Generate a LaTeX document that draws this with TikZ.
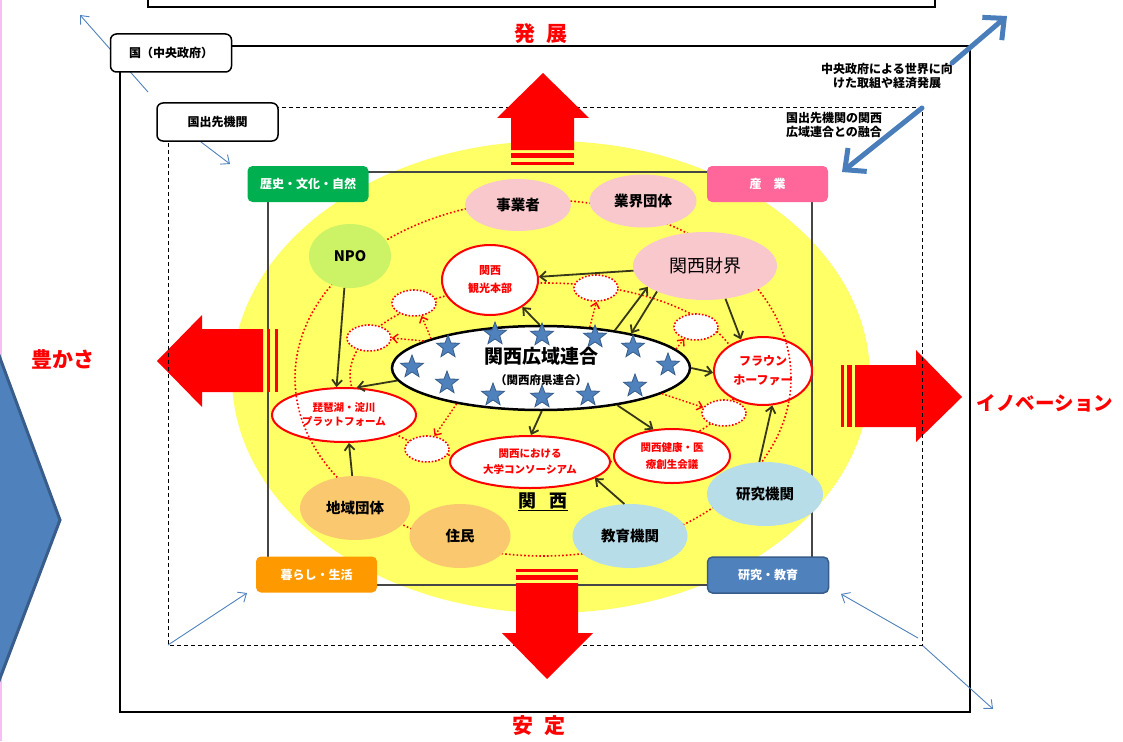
\documentclass[tikz,border=0pt]{standalone}
\usepackage{fontspec}
\setmainfont{Noto Sans CJK JP}
\usetikzlibrary{shapes.geometric,arrows.meta}
\definecolor{ybg}{RGB}{255,255,102}
\definecolor{pinkp}{RGB}{248,200,204}
\definecolor{npog}{RGB}{204,242,102}
\definecolor{orp}{RGB}{250,200,110}
\definecolor{bluep}{RGB}{183,221,232}
\definecolor{catg}{RGB}{0,176,80}
\definecolor{catp}{RGB}{255,102,153}
\definecolor{cato}{RGB}{255,153,0}
\definecolor{catb}{RGB}{79,129,189}
\definecolor{catbd}{RGB}{56,93,138}
\definecolor{lblue}{RGB}{79,129,189}
\definecolor{tblue}{RGB}{74,126,187}
\definecolor{arrowc}{RGB}{55,55,25}
\definecolor{pinkline}{RGB}{245,190,245}
\definecolor{boxgray}{RGB}{70,70,70}
\begin{document}
\begin{tikzpicture}[x=1pt,y=-1pt,
  cat/.style={rounded corners=5pt, minimum width=121pt, minimum height=36pt, inner sep=0pt, text=white, font=\bfseries\fontsize{12}{14}\selectfont},
  lbl/.style={draw=black, line width=1.5pt, fill=white, rounded corners=6pt, minimum width=121pt, minimum height=38pt, inner sep=0pt, font=\bfseries\fontsize{12}{14}\selectfont},
  pastel/.style={ellipse, inner sep=0pt, font=\bfseries\fontsize{14.5}{16}\selectfont},
  rednode/.style={ellipse, draw=red, line width=2pt, fill=white, inner sep=0pt, text=red, align=center},
  smallring/.style={ellipse, draw=red, fill=white, line width=1.6pt, dash pattern=on 1.6pt off 1.8pt, minimum width=44pt, minimum height=26pt, inner sep=0pt},
  ar/.style={draw=arrowc, line width=1.8pt, -{Straight Barb[length=6pt,width=10pt]}},
  rdar/.style={draw=red, line width=1.4pt, dash pattern=on 1.6pt off 2pt, -{Straight Barb[length=5pt,width=9pt]}},
  thinblue/.style={draw=lblue, line width=0.9pt, -{Straight Barb[length=7pt,width=12pt]}},
  thickblue/.style={draw=tblue, line width=5pt, line cap=round, -{Straight Barb[length=16pt,width=30pt]}},
  redlabel/.style={text=red, font=\bfseries\fontsize{21}{24}\selectfont},
  bluestar/.style={star, star points=5, star point ratio=2.4, fill=catb, draw=catbd, line width=0.8pt, minimum size=24pt, inner sep=0pt},
  ring/.style={draw=red, line width=1.6pt, dash pattern=on 1.6pt off 2.2pt}
]
\useasboundingbox (0,0) rectangle (1123,741);
\begin{scope}
\clip (0,0) rectangle (1123,741);
% left pink line and blue pentagon
\draw[pinkline, line width=2pt] (1,0) -- (1,741);
\filldraw[fill=catb, draw=catbd, line width=3pt] (-20,304) -- (60,520) -- (-20,731) -- cycle;
% top box
\draw[line width=1.2pt] (148,-5) -- (148,7) -- (935,7) -- (935,-5);
\end{scope}
% outer box
\draw[line width=1.2pt] (120,46) rectangle (970,712);
% thin blue arrows (under labels)
\coordinate (tb1s) at (148,92); \coordinate (tb1e) at (80,15);
\coordinate (tb2s) at (201,142); \coordinate (tb2e) at (230,164);
\coordinate (tb3s) at (168,645); \coordinate (tb3e) at (247,593);
\coordinate (tb4s) at (918,638); \coordinate (tb4e) at (841,594);
\coordinate (tb5s) at (922,645); \coordinate (tb5e) at (993,709);
\draw[thinblue] (tb1s) -- (tb1e);
\draw[thinblue] (tb2s) -- (tb2e);
\draw[thinblue] (tb3s) -- (tb3e);
\draw[thinblue] (tb4s) -- (tb4e);
\draw[thinblue] (tb5s) -- (tb5e);
% yellow area
\fill[ybg] (551,377) ellipse [x radius=319pt, y radius=236pt];
% inner box
\draw[boxgray, line width=1.4pt] (268,172) rectangle (812,585);
% left and right red arrows
\fill[red] (157,361) -- (202,315) -- (202,329) -- (263,329) -- (263,392) -- (202,392) -- (202,407) -- cycle;
\fill[red] (267,329) rectangle (270,392);
\fill[red] (275,329) rectangle (278,392);
\fill[red] (962,397) -- (916,350) -- (916,365) -- (855,365) -- (855,427) -- (916,427) -- (916,442) -- cycle;
\fill[red] (841,365) rectangle (844,427);
\fill[red] (847,365) rectangle (852,427);
% dashed box
\draw[line width=1pt, dash pattern=on 4pt off 3pt] (168,108) rectangle (922,645);
% up and down red arrows
\fill[red] (543,73) -- (589,118) -- (574,118) -- (574,150) -- (511,150) -- (511,118) -- (497,118) -- cycle;
\fill[red] (511,153) rectangle (574,158);
\fill[red] (511,162) rectangle (574,165);
\fill[red] (516,569) rectangle (578,572);
\fill[red] (516,575) rectangle (578,580);
\fill[red] (516,583) -- (578,583) -- (578,633) -- (593,633) -- (547,679) -- (502,633) -- (516,633) -- cycle;
% labels
\node[lbl] (gov) at (171,53) {国（中央政府）};
\node[lbl] (dept) at (217.5,122) {国出先機関};
\node[cat, fill=catg] (rekishi) at (308,184) {歴史・文化・自然};
\node[cat, fill=catp] (sangyo) at (767.5,184) {産　業};
\node[cat, fill=cato] (kurashi) at (316.5,574.5) {暮らし・生活};
\node[cat, fill=catb, draw=catbd, line width=1.5pt] (kenkyuk) at (768,575) {研究・教育};
% red direction labels
\node[redlabel] (hatten) at (541,34) {発\hspace{12pt}展};
\node[redlabel] (antei) at (539,726) {安\hspace{12pt}定};
\node[redlabel] (yutaka) at (63,359) {豊かさ};
\node[redlabel, font=\bfseries\fontsize{19.5}{22}\selectfont] (innov) at (1045,403) {イノベーション};
% side texts
\node[align=center, font=\bfseries\fontsize{12}{13.5}\selectfont] (t1) at (887,76) {中央政府による世界に向\\けた取組や経済発展};
\node[align=left, font=\bfseries\fontsize{12}{13.5}\selectfont] (t2) at (834,125) {国出先機関の関西\\広域連合との融合};
% thick blue arrows
\coordinate (kb1s) at (952,63); \coordinate (kb1e) at (1007,16);
\coordinate (kb2s) at (922,108); \coordinate (kb2e) at (842,172);
\draw[thickblue] (kb1s) -- (kb1e);
\draw[thickblue] (kb2s) -- (kb2e);
% inner dotted ring
\draw[ring] (545,375) ellipse [x radius=195pt, y radius=92pt];
% small dotted ellipses
\node[smallring] (s1) at (414,303) {};
\node[smallring] (s2) at (369,338) {};
\node[smallring] (s3) at (596,288) {};
\node[smallring] (s4) at (696,327) {};
\node[smallring] (s5) at (724,413) {};
\node[smallring] (s6) at (427,449) {};
% red nodes
\node[rednode, minimum width=96pt, minimum height=70pt, font=\bfseries\fontsize{11}{18}\selectfont] (kanko) at (490,280) {関西\\観光本部};
\node[rednode, minimum width=144pt, minimum height=54pt, font=\bfseries\fontsize{10.5}{14}\selectfont] (biwa) at (344,415) {琵琶湖・淀川\\プラットフォーム};
\node[rednode, minimum width=160pt, minimum height=52pt, font=\bfseries\fontsize{10.5}{16}\selectfont] (daigaku) at (530,462) {関西における\\大学コンソーシアム};
\node[rednode, minimum width=116pt, minimum height=54pt, font=\bfseries\fontsize{10.5}{17}\selectfont] (kenko) at (672,456) {関西健康・医\\療創生会議};
\node[rednode, minimum width=98pt, minimum height=68pt, font=\bfseries\fontsize{12}{19}\selectfont] (fraun) at (763,371) {フラウン\\ホーファー};
% outer dotted ring
\draw[ring] (543,378) ellipse [x radius=248pt, y radius=178pt];
% pastel nodes
\node[pastel, fill=pinkp, minimum width=106pt, minimum height=52pt] (jigyo) at (518,205) {事業者};
\node[pastel, fill=pinkp, minimum width=107pt, minimum height=53pt] (gyokai) at (643,201) {業界団体};
\node[pastel, fill=pinkp, minimum width=144pt, minimum height=68pt, font=\fontsize{18}{20}\selectfont] (zaikai) at (705,266) {関西財界};
\node[pastel, fill=npog, minimum width=82pt, minimum height=64pt] (npo) at (350,256) {NPO};
\node[pastel, fill=orp, minimum width=110pt, minimum height=64pt] (chiiki) at (355,508) {地域団体};
\node[pastel, fill=orp, minimum width=101pt, minimum height=64pt] (jumin) at (460,536) {住民};
\node[pastel, fill=bluep, minimum width=115pt, minimum height=64pt] (kyoiku) at (630,536) {教育機関};
\node[pastel, fill=bluep, minimum width=116pt, minimum height=64pt] (kenkyu) at (765,494) {研究機関};
% central node
\node[ellipse, draw=black, line width=2.5pt, fill=white, minimum width=298pt, minimum height=84pt, inner sep=0pt] (kouiki) at (541,368) {};
\foreach \i/\p in {1/{(412,367)},2/{(448,347)},3/{(495,334)},4/{(542,335)},5/{(595,337)},6/{(633,347)},7/{(668,365)},8/{(447,383)},9/{(493,395)},10/{(542,397)},11/{(588,395)},12/{(635,386)}}
  \node[bluestar] (st\i) at \p {};
\node[inner sep=0pt, font=\bfseries\fontsize{19}{22}\selectfont] (kouikit) at (541,356) {関西広域連合};
\node[inner sep=0pt, font=\bfseries\fontsize{11.5}{14}\selectfont] (kouikis) at (541,380) {（関西府県連合）};
\node[font=\bfseries\fontsize{18}{20}\selectfont, inner sep=0pt] (kansai) at (543,502) {\underline{関\hspace{14pt}西}};
% black arrows
\draw[ar] (zaikai) -- (kanko);
\draw[ar] (kouiki.27) -- (zaikai.200);
\draw[ar] (zaikai.208) -- (kouiki.21);
\draw[ar] (kouiki.92) -- (kanko.-40);
\draw[ar] (zaikai.-58) -- (fraun.125);
\draw[ar] (kouiki.east) -- (fraun.182);
\draw[ar] (kouiki.185) -- (biwa.65);
\draw[ar] (npo.-100) -- (biwa.105);
\draw[ar] (kouiki.-89) -- (daigaku.88);
\draw[ar] (kouiki.-26) -- (kenko.125);
\draw[ar] (chiiki.95) -- (biwa.-80);
\draw[ar] (kyoiku.100) -- (daigaku.-14);
\draw[ar] (kenkyu.100) -- (fraun.-75);
% red dotted arrows
\draw[rdar] (kouiki.165) -- (s1.-60);
\draw[rdar] (kouiki.167) -- (s2.east);
\draw[rdar] (kouiki.40) -- (s3.-88);
\draw[rdar] (kouiki.8) -- (s4.-135);
\draw[rdar] (kouiki.-12) -- (s5.165);
\draw[rdar] (kouiki.-157) -- (s6.60);
\end{tikzpicture}
\end{document}
